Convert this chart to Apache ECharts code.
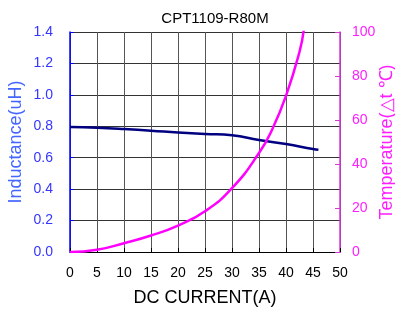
<!DOCTYPE html>
<html>
<head>
<meta charset="utf-8">
<script src="https://cdn.jsdelivr.net/npm/echarts@6/dist/echarts.min.js"></script>
<style>
  html, body { margin: 0; padding: 0; background: #fff; }
  #chart { width: 395px; height: 311px; }
</style>
</head>
<body>
<div id="chart"></div>
<script>
// 电流 (A) 和电感 (uH)
const currentL = [0, 5, 10, 15, 20, 25, 30, 35, 40, 45, 46];
const inductance = [0.795, 0.79, 0.782, 0.772, 0.76, 0.751, 0.743, 0.713, 0.687, 0.655, 0.65];
// 电流 (A) 和温升 (℃)
const currentT = [0, 5, 10, 15, 20, 25, 30, 35, 37.5, 40, 42.5, 43.3];
const temperature = [0, 1, 4, 7.5, 12, 18.5, 29, 45, 56, 71, 91, 101];

const pair = (xs, ys) => xs.map((x, i) => [x, ys[i]]);

const font = "Arial, 'Liberation Sans', sans-serif";
const blue = "#3535ff";
const pink = "#ff1eff";

const chart = echarts.init(document.getElementById("chart"));
chart.setOption({
  animation: false,
  title: {
    text: "CPT1109-R80M",
    left: 210,
    textAlign: "center",
    top: 6,
    textStyle: { fontFamily: font, fontSize: 15, fontWeight: "normal", color: "#000" },
  },
  // 固定绘图区，不让坐标轴名称挤压
  grid: { left: 70, right: 55, top: 32, bottom: 59, containLabel: false, outerBoundsMode: "none" },
  xAxis: {
    type: "value",
    min: 0,
    max: 50,
    interval: 5,
    name: "DC CURRENT(A)",
    nameLocation: "middle",
    nameGap: 37,
    nameMoveOverlap: false,
    nameTextStyle: { fontFamily: font, fontSize: 18, color: "#000" },
    axisLine: { lineStyle: { color: "#000", width: 1 } },
    axisTick: { inside: true, length: 4, lineStyle: { color: "#000" } },
    axisLabel: { fontFamily: font, fontSize: 14, color: "#000", margin: 14 },
    splitLine: { show: true, lineStyle: { color: "#555", width: 1 } },
  },
  yAxis: [
    {
      type: "value",
      min: 0,
      max: 1.4,
      interval: 0.2,
      name: "Inductance(uH)",
      nameLocation: "middle",
      nameGap: 45,
      nameMoveOverlap: false,
      nameTextStyle: { fontFamily: font, fontSize: 18, color: "#4466ff" },
      axisLine: { show: true, lineStyle: { color: "#0000ff", width: 1.5 } },
      axisTick: { show: true, inside: true, length: 4, lineStyle: { color: "#0000ff" } },
      axisLabel: {
        fontFamily: font, fontSize: 14, color: blue, margin: 17,
        formatter: (v) => v.toFixed(1),
      },
      splitLine: { show: true, lineStyle: { color: "#333", width: 1 } },
    },
    {
      type: "value",
      min: 0,
      max: 100,
      interval: 20,
      position: "right",
      name: "Temperature(△t ℃)",
      nameLocation: "middle",
      nameGap: 38,
      nameMoveOverlap: false,
      nameTextStyle: { fontFamily: font, fontSize: 18, color: pink },
      axisLine: { show: true, lineStyle: { color: "#dd33dd", width: 1.5 } },
      axisTick: { show: true, inside: true, length: 5, lineStyle: { color: "#dd33dd" } },
      axisLabel: { fontFamily: font, fontSize: 14, color: pink, margin: 12 },
      splitLine: { show: false },
    },
  ],
  series: [
    {
      name: "Inductance",
      type: "line",
      yAxisIndex: 0,
      smooth: true,
      symbol: "none",
      lineStyle: { color: "#000080", width: 2.5 },
      data: pair(currentL, inductance),
    },
    {
      name: "Temperature",
      type: "line",
      yAxisIndex: 1,
      smooth: true,
      symbol: "none",
      lineStyle: { color: "#ff00ff", width: 2.5 },
      data: pair(currentT, temperature),
    },
  ],
});
</script>
</body>
</html>
